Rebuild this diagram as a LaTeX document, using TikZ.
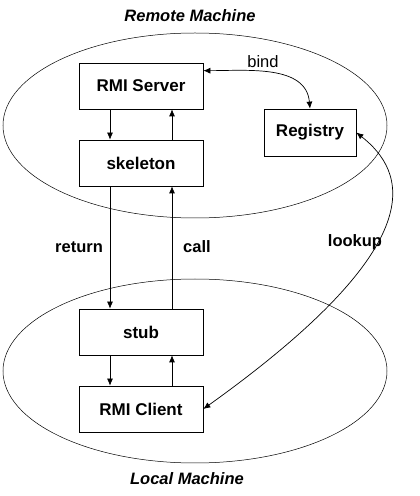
\documentclass[tikz,border=0pt]{standalone}
\usepackage{fontspec}
\setmainfont{Liberation Sans}
\usetikzlibrary{arrows.meta}

\tikzset{
  box/.style={draw, minimum width=124pt, minimum height=46pt, font=\fontsize{17}{19}\selectfont\bfseries},
  lbl/.style={font=\fontsize{16.5}{19}\selectfont\bfseries},
  machine/.style={font=\fontsize{16.5}{19}\selectfont\bfseries\itshape}
}

\begin{document}
\begin{tikzpicture}[x=1pt,y=1pt,line width=0.7pt,>={Latex[length=7pt,width=6pt]}]
\useasboundingbox (0,0) rectangle (420,496);
% the two machines
\draw[line width=0.5pt] (195,370.5) ellipse (192pt and 92.5pt);
\draw[line width=0.5pt] (195,125) ellipse (192pt and 92pt);
\node[machine] (remote) at (190,480) {Remote Machine};
\node[machine] (local) at (187,17) {Local Machine};
% boxes
\node[box] (server) at (141,410) {RMI Server};
\node[box] (skel) at (141,333) {skeleton};
\node[box, minimum width=92pt, minimum height=47pt] (reg) at (310,363.5) {Registry};
\node[box] (stub) at (141,164) {stub};
\node[box] (client) at (141,87) {RMI Client};
% down and up arrows
\foreach \a/\b in {server/skel, skel/stub, stub/client}{
  \draw[->] ([xshift=-31pt]\a.south) -- ([xshift=-31pt]\b.north);
  \draw[->] ([xshift=31pt]\b.north) -- ([xshift=31pt]\a.south);
}
\node[lbl] (ret) at (79,249) {return};
\node[lbl] (call) at (197,249) {call};
% registry
\draw[<->] ([yshift=-8pt]server.north east) to[out=0,in=95] (reg.north);
\node[font=\fontsize{16.5}{19}\selectfont] (bind) at (263,434) {bind};
\draw[<->] (reg.east) .. controls (405,325) and (438,255) .. (client.east);
\node[lbl] (lookup) at (355,254) {lookup};
\end{tikzpicture}
\end{document}
